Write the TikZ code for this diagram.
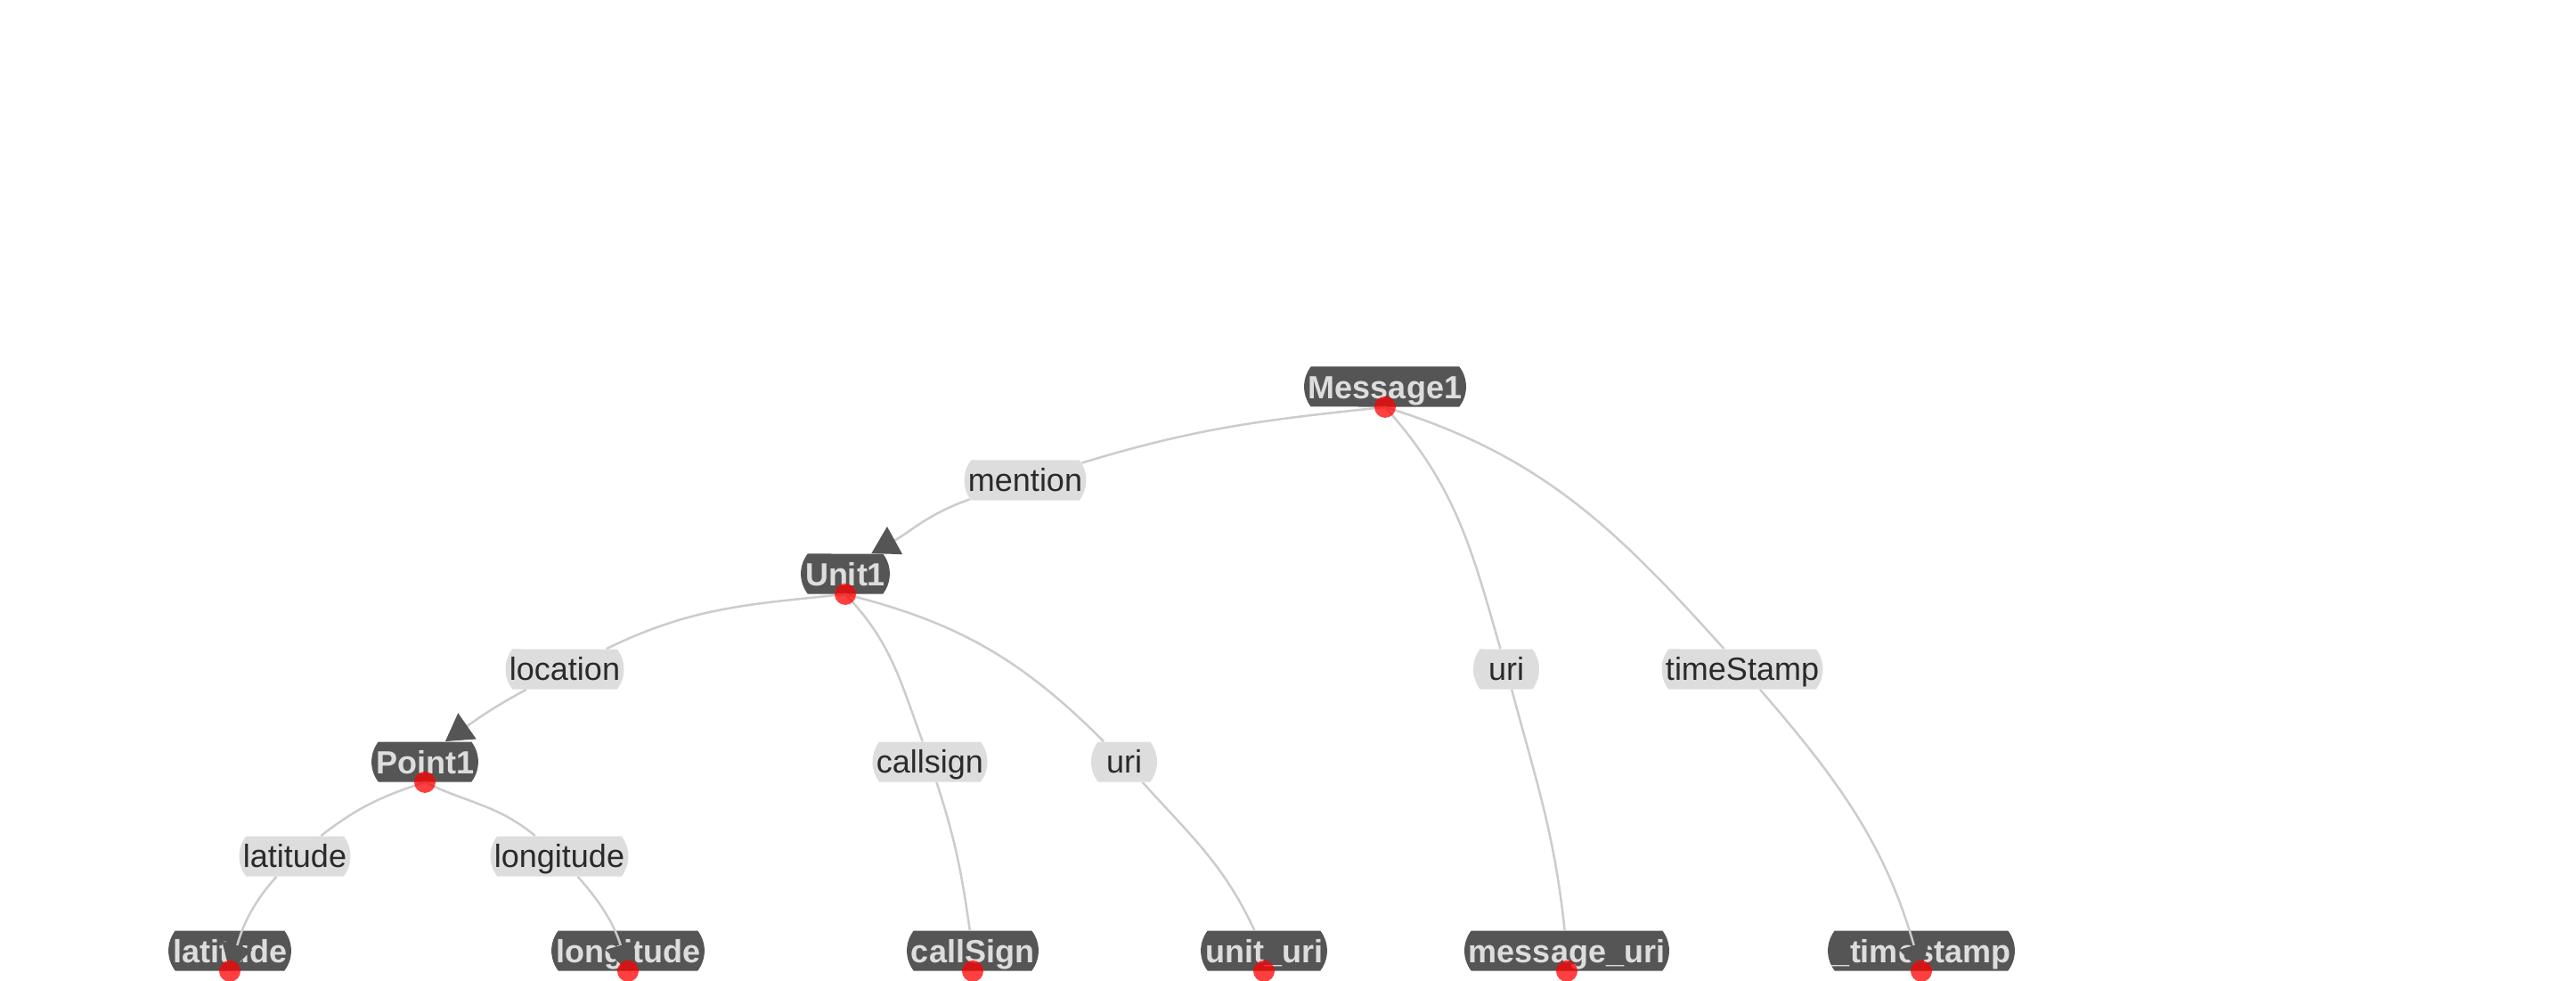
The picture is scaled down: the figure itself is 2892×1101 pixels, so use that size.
\documentclass[tikz,border=0pt]{standalone}
\usepackage{fontspec}
\setmainfont{Liberation Sans}
\usepackage{xcolor}
\usetikzlibrary{arrows.meta, shapes.misc}
\definecolor{nodegrey}{HTML}{555555}
\definecolor{chipgrey}{HTML}{DDDDDD}
\definecolor{linegrey}{HTML}{CCCCCC}
\definecolor{chiptext}{HTML}{2A2A2A}
\pgfdeclarelayer{back}
\pgfdeclarelayer{links}
\pgfsetlayers{back,links,main}
\tikzset{
	entity/.style={rounded rectangle, rounded rectangle arc length=75, fill=nodegrey, text=chipgrey,
		font=\fontsize{18}{21}\selectfont\bfseries, minimum height=22.5pt, inner xsep=0.5pt, inner ysep=0pt,
		text height=15pt, text depth=1.5pt},
	prop/.style={rounded rectangle, rounded rectangle arc length=75, fill=chipgrey, text=chiptext,
		font=\fontsize{18}{21}\selectfont, minimum height=22.5pt, inner xsep=0.5pt, inner ysep=0pt,
		text height=14pt, text depth=1.5pt},
	link/.style={draw=linegrey, line width=1.25pt},
	head/.style={link, -{Triangle[length=15pt, width=17.5pt, color=nodegrey, fill=nodegrey]}},
	anchordot/.style={fill=red, fill opacity=0.75}
}
\begin{document}
\begin{tikzpicture}[x=0.5pt, y=-0.5pt]
	\useasboundingbox (0,0) rectangle (2892,1101);

	\begin{pgfonlayer}{back}
	\node[entity] (n_message) at (1555,434) {Message1};
	\node[entity] (n_unit) at (949,644) {Unit1};
	\node[entity] (n_point) at (477,855) {Point1};
	\node[entity] (n_latitude) at (258,1067) {latitude};
	\node[entity] (n_longitude) at (705,1067) {longitude};
	\node[entity] (n_callSign) at (1092,1067) {callSign};
	\node[entity] (n_unituri) at (1419,1067) {unit\_uri};
	\node[entity] (n_messageuri) at (1759,1067) {message\_uri};
	\node[entity] (n_timestamp) at (2157,1067) {\_timestamp};
	\end{pgfonlayer}

	\node[prop] (l_mention) at (1151,539) {mention};
	\node[prop] (l_location) at (634,751) {location};
	\node[prop] (l_callsign) at (1044,855) {callsign};
	\node[prop] (l_uri1) at (1262,855) {uri};
	\node[prop] (l_uri2) at (1691,751) {uri};
	\node[prop] (l_timestamp) at (1956,751) {timeStamp};
	\node[prop] (l_latitude) at (331,961) {latitude};
	\node[prop] (l_longitude) at (628,961) {longitude};

	\begin{pgfonlayer}{links}
	\draw[head] (n_message.south) to[out=186,in=17] (l_mention) to[out=199,in=29] (n_unit.38);
	\draw[link] (n_message.south) to[out=-48,in=106] (l_uri2) to[out=-75,in=96] (n_messageuri);
	\draw[head] (n_message.south) to[out=-17,in=132] (l_timestamp) to[out=-49,in=106] (n_timestamp.south);
	\draw[head] (n_unit.south) to[out=186,in=26] (l_location) to[out=208,in=35] (n_point.45);
	\draw[link] (n_unit.south) to[out=-46,in=110] (l_callsign) to[out=-72,in=98] (n_callSign);
	\draw[link] (n_unit.south) to[out=-14,in=135] (l_uri1) to[out=-48,in=115] (n_unituri);
	\draw[head] (n_point.south) to[out=198,in=38] (l_latitude) to[out=228,in=74] (n_latitude.south);
	\draw[head] (n_point.south) to[out=-26,in=140] (l_longitude) to[out=-48,in=106] (n_longitude.south);
	\end{pgfonlayer}

	\foreach \n in {n_message,n_unit,n_point,n_latitude,n_longitude,n_callSign,n_unituri,n_messageuri,n_timestamp}
		\fill[anchordot] (\n.south) circle (6pt);
\end{tikzpicture}
\end{document}
